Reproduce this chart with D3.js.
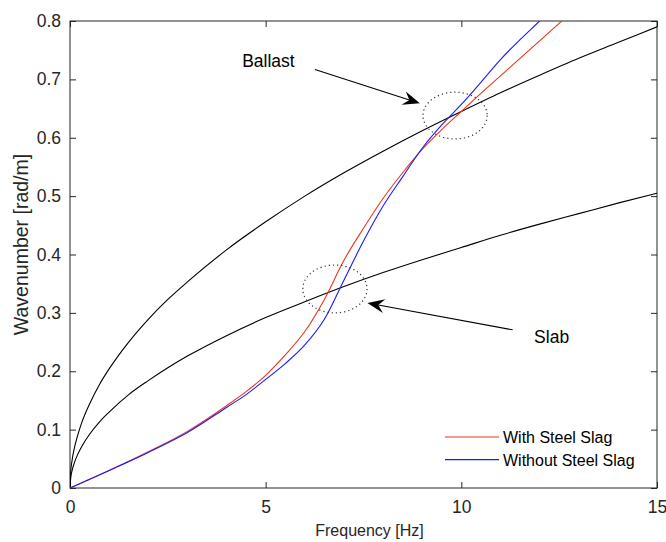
<!DOCTYPE html>
<html>
<head>
<meta charset="utf-8">
<script src="https://cdn.jsdelivr.net/npm/d3@7"></script>
<style>
  body { margin: 0; background: #fff; }
  svg { display: block; font-family: "Liberation Sans", Arial, sans-serif; }
  .axis text { fill: #262626; font-size: 17.5px; }
  .axis path, .axis line { stroke: #262626; }
</style>
</head>
<body>
<svg id="chart" width="666" height="542"><g></g></svg>
<script>
// frequency samples (Hz) for the two dispersion curves of the layers
var layerFreq = [0, 0.02, 0.05, 0.1, 0.2, 0.3, 0.5, 0.75, 1, 1.5, 2, 2.5, 3, 4, 5, 6, 7, 8, 9, 10, 11, 12, 13, 14, 15];
var ballast = [0, 0.029, 0.046, 0.065, 0.091, 0.112, 0.144, 0.177, 0.204, 0.250, 0.289, 0.323, 0.353, 0.408, 0.456, 0.500, 0.540, 0.577, 0.612, 0.645, 0.677, 0.707, 0.736, 0.763, 0.790];
var slab    = [0, 0.018, 0.029, 0.041, 0.058, 0.071, 0.092, 0.113, 0.130, 0.160, 0.184, 0.206, 0.226, 0.261, 0.292, 0.319, 0.345, 0.369, 0.391, 0.412, 0.433, 0.452, 0.470, 0.488, 0.505];

// track dispersion samples
var trackFreq = [0, 1, 2, 3, 4, 4.5, 5, 5.5, 6, 6.5, 7, 7.5, 8, 8.5, 9, 9.5, 10, 10.5, 11, 11.5, 12, 12.5, 13];
var withSlag    = [0, 0.030, 0.062, 0.097, 0.141, 0.165, 0.193, 0.228, 0.268, 0.323, 0.390, 0.445, 0.496, 0.540, 0.580, 0.614, 0.645, 0.676, 0.706, 0.736, 0.766, 0.796, 0.826];
var withoutSlag = [0, 0.030, 0.061, 0.095, 0.138, 0.160, 0.186, 0.213, 0.245, 0.289, 0.356, 0.423, 0.483, 0.533, 0.582, 0.622, 0.657, 0.695, 0.734, 0.768, 0.800, 0.833, 0.866];

var xTicks = [0, 5, 10, 15];
var yTicks = [0, 0.1, 0.2, 0.3, 0.4, 0.5, 0.6, 0.7, 0.8];
var legendLabels = ['With Steel Slag', 'Without Steel Slag'];

// annotations in data units: [cx, cy, rx, ry]
var ellipses = [[9.84, 0.638, 0.82, 0.040], [6.77, 0.341, 0.82, 0.041]];
// arrows: tail -> tip
var arrows = [
  {x1: 6.26, y1: 0.717, x2: 8.94, y2: 0.659},
  {x1: 11.31, y1: 0.271, x2: 7.60, y2: 0.317}
];
var labels = [
  {text: 'Ballast', x: 4.40, y: 0.721},
  {text: 'Slab', x: 11.86, y: 0.249}
];

var
  margin = {top: 21, right: 9, bottom: 54, left: 70},
  width = 666 - margin.left - margin.right,
  height = 542 - margin.top - margin.bottom,
  xScale = d3.scaleLinear().domain([0, 15]).range([0, width]),
  yScale = d3.scaleLinear().domain([0, 0.8]).range([height, 0]),
  line = d3.line().curve(d3.curveMonotoneX).x(d => xScale(d[0])).y(d => yScale(d[1]))
  ;

var svg = d3.select('#chart'),
  g = svg.select('g').attr('transform', 'translate(' + margin.left + ',' + margin.top + ')');

g.append('clipPath').attr('id', 'clip')
  .append('rect').attr('width', width).attr('height', height);

// box + inward ticks
g.append('g').attr('class', 'axis axis--x')
  .attr('transform', 'translate(0,' + height + ')')
  .call(d3.axisBottom(xScale).tickValues(xTicks).tickSizeInner(-6).tickSizeOuter(0).tickPadding(13).tickFormat(d3.format('d')));
g.append('g').attr('class', 'axis axis--x2')
  .call(d3.axisTop(xScale).tickValues(xTicks).tickSizeInner(-6).tickSizeOuter(0).tickFormat(''));
g.append('g').attr('class', 'axis axis--y')
  .call(d3.axisLeft(yScale).tickValues(yTicks).tickSizeInner(-6).tickSizeOuter(0).tickPadding(9).tickFormat(d => d === 0 ? '0' : d3.format('.1f')(d)));
g.append('g').attr('class', 'axis axis--y2')
  .attr('transform', 'translate(' + width + ',0)')
  .call(d3.axisRight(yScale).tickValues(yTicks).tickSizeInner(-6).tickSizeOuter(0).tickFormat(''));
g.selectAll('.axis .domain').remove();
g.append('rect')
  .attr('width', width).attr('height', height)
  .attr('fill', 'none').attr('stroke', '#262626').attr('stroke-width', 1);

var curves = [
  {id: 'ballast', color: '#000', values: layerFreq.map((f, i) => [f, ballast[i]])},
  {id: 'slab', color: '#000', values: layerFreq.map((f, i) => [f, slab[i]])},
  {id: 'with', color: '#e8361c', values: trackFreq.map((f, i) => [f, withSlag[i]])},
  {id: 'without', color: '#1a1aff', values: trackFreq.map((f, i) => [f, withoutSlag[i]])}
];

g.append('g').attr('clip-path', 'url(#clip)')
  .selectAll('path')
  .data(curves)
  .enter().append('path')
  .attr('class', d => 'line ' + d.id)
  .attr('d', d => line(d.values))
  .attr('fill', 'none')
  .attr('stroke', d => d.color)
  .attr('stroke-width', 1.1);

// dotted ellipses
g.selectAll('.ell')
  .data(ellipses)
  .enter().append('ellipse')
  .attr('class', 'ell')
  .attr('cx', d => xScale(d[0]))
  .attr('cy', d => yScale(d[1]))
  .attr('rx', d => xScale(d[2]) - xScale(0))
  .attr('ry', d => yScale(0) - yScale(d[3]))
  .attr('fill', 'none')
  .attr('stroke', '#333')
  .attr('stroke-width', 1.2)
  .attr('stroke-dasharray', '1.2 3');

// arrows with swept-back heads
arrows.forEach(function(a) {
  var x1 = xScale(a.x1), y1 = yScale(a.y1), x2 = xScale(a.x2), y2 = yScale(a.y2),
    dx = x2 - x1, dy = y2 - y1, n = Math.sqrt(dx * dx + dy * dy),
    ux = dx / n, uy = dy / n, px = -uy, py = ux,
    L = 17, W = 7, N = 11;
  var back = [x2 - ux * L, y2 - uy * L];
  var notch = [x2 - ux * N, y2 - uy * N];
  g.append('line')
    .attr('x1', x1).attr('y1', y1).attr('x2', notch[0]).attr('y2', notch[1])
    .attr('stroke', '#000').attr('stroke-width', 1.1);
  g.append('path')
    .attr('d', 'M' + x2 + ',' + y2 +
      'L' + (back[0] + px * W) + ',' + (back[1] + py * W) +
      'L' + notch[0] + ',' + notch[1] +
      'L' + (back[0] - px * W) + ',' + (back[1] - py * W) + 'Z')
    .attr('fill', '#000');
});

g.selectAll('.label')
  .data(labels)
  .enter().append('text')
  .attr('class', 'label')
  .attr('x', d => xScale(d.x))
  .attr('y', d => yScale(d.y))
  .attr('font-size', 17.5)
  .attr('fill', '#000')
  .text(d => d.text);

// legend (no box)
var legend = g.append('g').attr('transform', 'translate(' + (width - 212) + ',' + (height - 51) + ')');
legend.selectAll('g')
  .data(legendLabels)
  .enter().append('g')
  .attr('transform', (d, i) => 'translate(0,' + (i * 22.6) + ')')
  .each(function(d, i) {
    var s = d3.select(this);
    s.append('line').attr('x1', 0).attr('x2', 54).attr('y1', 0).attr('y2', 0)
      .attr('stroke', curves[i + 2].color).attr('stroke-width', 1.1);
    s.append('text').attr('x', 58).attr('y', 6).attr('font-size', 16).attr('fill', '#000').text(d);
  });

// axis titles
g.append('text')
  .attr('x', width / 2 + 6).attr('y', height + 48)
  .attr('text-anchor', 'middle').attr('font-size', 16).attr('fill', '#262626')
  .text('Frequency [Hz]');
g.append('text')
  .attr('transform', 'translate(' + (-42) + ',' + (height / 2 - 10) + ') rotate(-90)')
  .attr('text-anchor', 'middle').attr('font-size', 19.5).attr('fill', '#262626')
  .text('Wavenumber [rad/m]');
</script>
</body>
</html>
